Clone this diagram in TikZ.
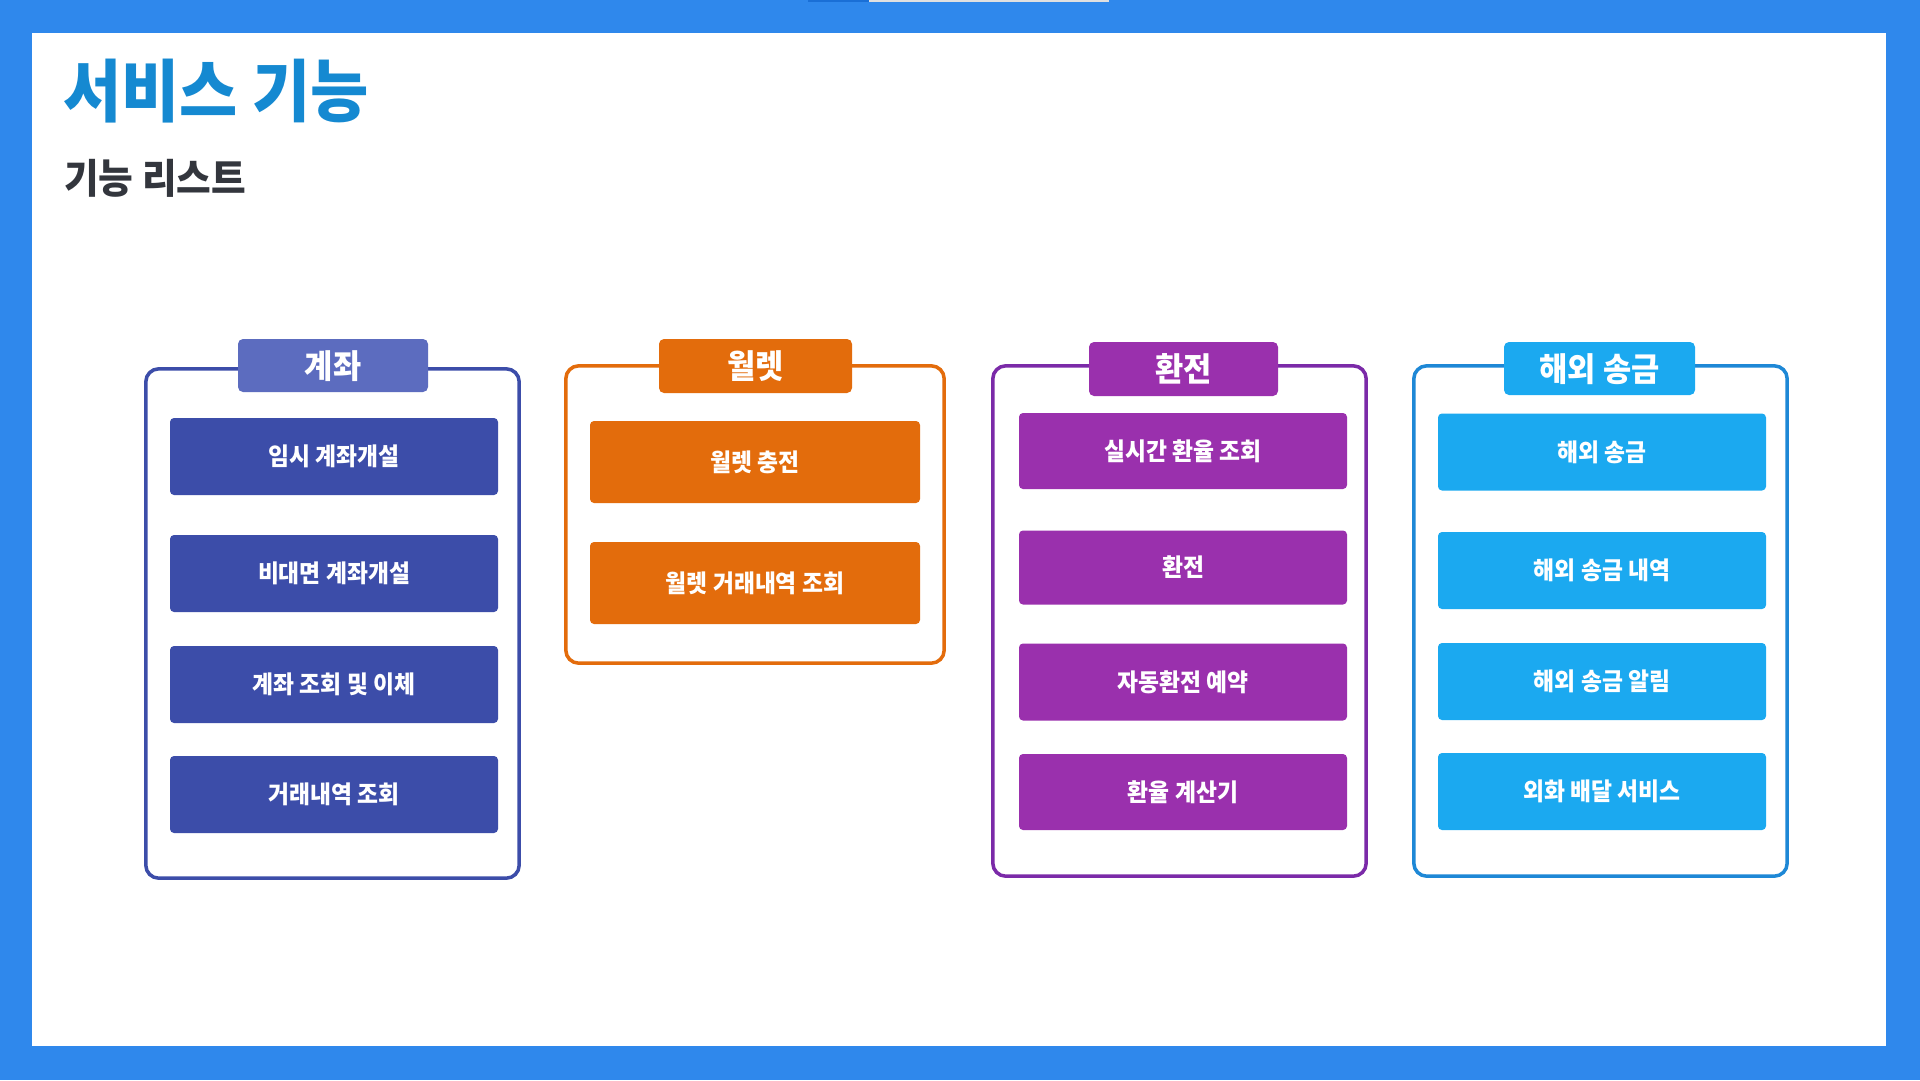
\documentclass[tikz,border=0pt]{standalone}
\usepackage{fontspec}
\setmainfont{Noto Sans CJK KR}[FakeStretch=0.93]
\usepackage{xcolor}

\definecolor{pageblue}{HTML}{2F88EC}
\definecolor{titleblue}{HTML}{1589D1}
\definecolor{subgray}{HTML}{33363D}
\definecolor{acctbox}{HTML}{3C4DA9}
\definecolor{accthead}{HTML}{5C6CBF}
\definecolor{walletbox}{HTML}{E36C0C}
\definecolor{fxbox}{HTML}{9A30AD}
\definecolor{fxline}{HTML}{7B2AA8}
\definecolor{remitbox}{HTML}{1BA9F0}
\definecolor{remitline}{HTML}{1E88D6}
\definecolor{markblue}{HTML}{1A6FD6}

\begin{document}
\begin{tikzpicture}[x=1pt,y=1pt,yscale=-1,xscale=1,
    groupbox/.style={draw, line width=3.5pt, rounded corners=13pt, inner sep=0pt, fill=white},
    headtab/.style={rounded corners=5pt, inner sep=0pt, text=white, font=\fontsize{33}{38}\selectfont\bfseries, text height=25pt, text depth=0pt},
    featbox/.style={rounded corners=4pt, inner sep=0pt, minimum width=328pt, minimum height=77pt, text=white, font=\fontsize{24.5}{29}\selectfont\bfseries, text height=18.6pt, text depth=0pt}]
\useasboundingbox (0,0) rectangle (1920,1080);

%Page frame
    \fill[pageblue] (0,0) rectangle (1920,1080);
    \fill[white] (32,33) rectangle (1886,1046);
    \fill[markblue] (808,0) rectangle (869,1.5);
    \fill[black!12] (869,0) rectangle (1109,1.5);

% Text Node
    \node (title) at (63,91) [anchor=west, inner sep=0pt, text=titleblue, font=\fontsize{68}{76}\selectfont\bfseries, text height=51.7pt, text depth=0pt] {서비스 기능};
% Text Node
    \node (subtitle) at (64,178) [anchor=west, inner sep=0pt, text=subgray, font=\fontsize{40.5}{46}\selectfont\bfseries, text height=30.8pt, text depth=0pt] {기능 리스트};

%Rounded Rect : 계좌
    \node (acct) at (332.5,623.5) [groupbox, draw=acctbox, minimum width=373.4pt, minimum height=509.4pt] {};
    \node (acctHead) at (333,365.5) [headtab, fill=accthead, minimum width=190pt, minimum height=53pt] {계좌};
    \node (acct1) at (334,456.5) [featbox, fill=acctbox] {임시 계좌개설};
    \node (acct2) at (334,573.5) [featbox, fill=acctbox] {비대면 계좌개설};
    \node (acct3) at (334,684.5) [featbox, fill=acctbox] {계좌 조회 및 이체};
    \node (acct4) at (334,794.5) [featbox, fill=acctbox] {거래내역 조회};

%Rounded Rect : 월렛
    \node (wallet) at (755,514.5) [groupbox, draw=walletbox, minimum width=378.4pt, minimum height=297.4pt] {};
    \node (walletHead) at (755.5,366) [headtab, fill=walletbox, minimum width=193pt, minimum height=54pt] {월렛};
    \node (wallet1) at (755,462) [featbox, fill=walletbox, minimum width=330pt, minimum height=82pt] {월렛 충전};
    \node (wallet2) at (755,583) [featbox, fill=walletbox, minimum width=330pt, minimum height=82pt] {월렛 거래내역 조회};

%Rounded Rect : 환전
    \node (fx) at (1179.5,621) [groupbox, draw=fxline, minimum width=373.4pt, minimum height=510.4pt] {};
    \node (fxHead) at (1183.5,369) [headtab, fill=fxbox, minimum width=189pt, minimum height=54pt] {환전};
    \node (fx1) at (1183,451) [featbox, fill=fxbox, minimum height=76pt] {실시간 환율 조회};
    \node (fx2) at (1183,567.5) [featbox, fill=fxbox, minimum height=74pt] {환전};
    \node (fx3) at (1183,682) [featbox, fill=fxbox, minimum height=77pt] {자동환전 예약};
    \node (fx4) at (1183,792) [featbox, fill=fxbox, minimum height=76pt] {환율 계산기};

%Rounded Rect : 해외 송금
    \node (remit) at (1600.5,621) [groupbox, draw=remitline, minimum width=373.4pt, minimum height=510.4pt] {};
    \node (remitHead) at (1599.5,368.5) [headtab, fill=remitbox, minimum width=191pt, minimum height=53pt] {해외 송금};
    \node (remit1) at (1602,452) [featbox, fill=remitbox] {해외 송금};
    \node (remit2) at (1602,570.5) [featbox, fill=remitbox] {해외 송금 내역};
    \node (remit3) at (1602,681.5) [featbox, fill=remitbox] {해외 송금 알림};
    \node (remit4) at (1602,791.5) [featbox, fill=remitbox] {외화 배달 서비스};

\end{tikzpicture}
\end{document}
